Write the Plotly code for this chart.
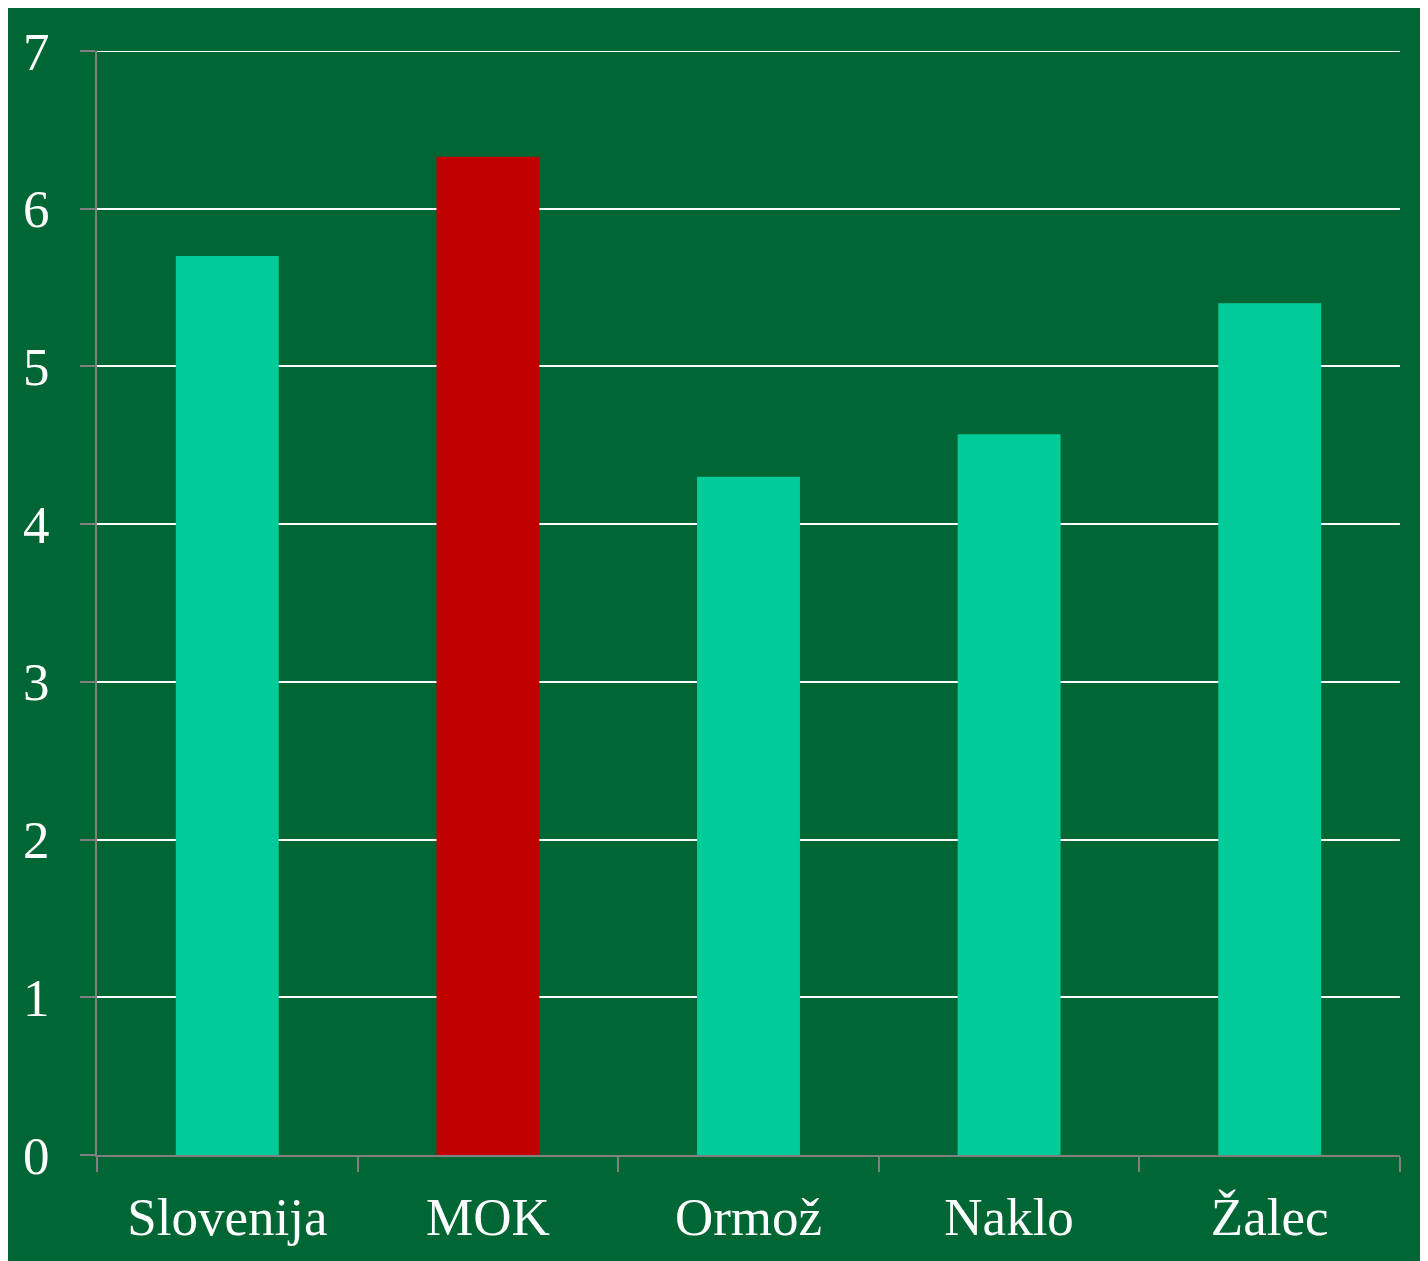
import plotly.graph_objects as go

categories = ["Slovenija", "MOK", "Ormož", "Naklo", "Žalec"]
values = [5.7, 6.33, 4.3, 4.57, 5.4]
bar_colors = ["#00CC99", "#C00000", "#00CC99", "#00CC99", "#00CC99"]
y_ticks = [0, 1, 2, 3, 4, 5, 6, 7]

W, H = 1428, 1261

fig = go.Figure(go.Bar(x=categories, y=values, marker=dict(color=bar_colors, line=dict(width=0)),
                       width=0.395))

fig.add_hline(y=y_ticks[-1], line=dict(color="#FFFFFF", width=2))

fig.update_layout(
    width=W, height=H,
    margin=dict(l=89, r=36, t=43, b=114, pad=0),
    paper_bgcolor="#006633",
    plot_bgcolor="#006633",
    font=dict(family="Liberation Serif, Times New Roman, serif", size=53, color="#FFFFFF"),
    showlegend=False,
)
fig.update_xaxes(
    showline=True, linecolor="#808080", linewidth=2,
    ticks="outside", ticklen=15, tickwidth=2, tickcolor="#808080",
    tickson="boundaries", showgrid=False,
    ticklabelstandoff=14,
    tickfont=dict(size=53, color="#FFFFFF"),
)
fig.update_yaxes(
    range=[0, 7], tickvals=y_ticks, ticktext=[str(v) for v in y_ticks],
    showline=True, linecolor="#808080", linewidth=2,
    ticks="outside", ticklen=15, tickwidth=2, tickcolor="#808080",
    showgrid=True, gridcolor="#FFFFFF", gridwidth=2,
    zeroline=False,
    ticklabelstandoff=20,
    tickfont=dict(size=53, color="#FFFFFF"),
)
fig.write_html("out.html")
